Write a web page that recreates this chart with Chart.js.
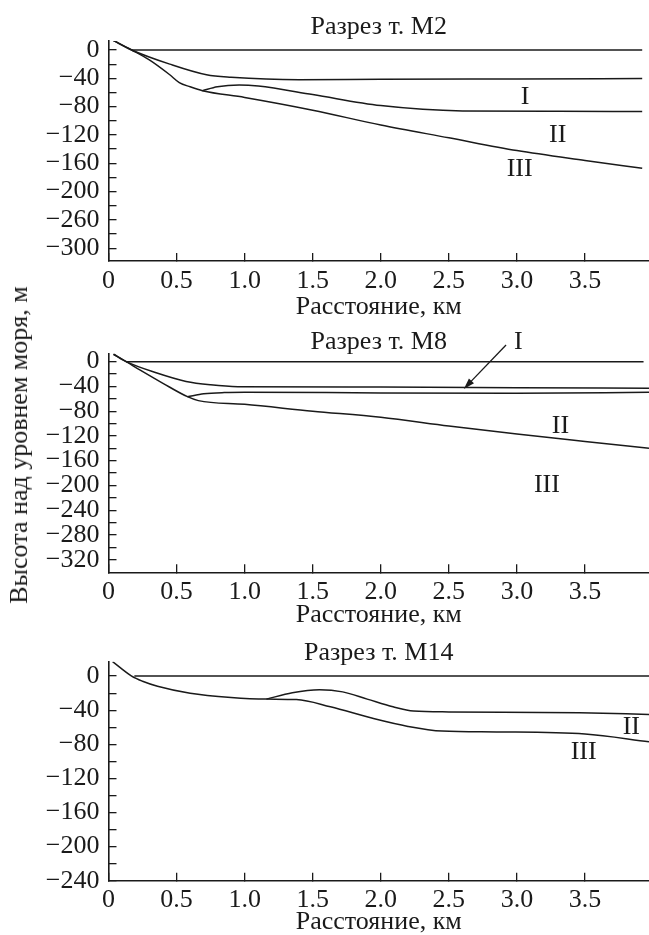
<!DOCTYPE html>
<html>
<head>
<meta charset="utf-8">
<script src="https://cdn.jsdelivr.net/npm/chart.js@4.4.1/dist/chart.umd.min.js"></script>
<style>
  html, body { margin: 0; padding: 0; background: #fff; overflow: hidden; }
  #page { position: relative; width: 649px; height: 935px; }
  .panel { position: absolute; left: 0; }
  #ytitle {
    position: absolute; left: 19px; top: 445px;
    transform: translate(-50%, -50%) rotate(-90deg);
    white-space: nowrap; color: #1a1a1a;
    font: 26px 'Liberation Serif', 'Times New Roman', serif;
  }
</style>
</head>
<body>
<div id="page">
  <canvas class="panel" id="c1" width="649" height="320" style="top:0px"></canvas>
  <canvas class="panel" id="c2" width="649" height="309" style="top:319px"></canvas>
  <canvas class="panel" id="c3" width="649" height="307" style="top:628px"></canvas>
  <div id="ytitle">Высота над уровнем моря, м</div>
</div>
<script>
// distance ticks, km
let xTicks = [0, 0.5, 1.0, 1.5, 2.0, 2.5, 3.0, 3.5];
let xTickLabels = ["0", "0.5", "1.0", "1.5", "2.0", "2.5", "3.0", "3.5"];

// ---- М2 ----
let m2YTicks = [0, -40, -80, -120, -160, -200, -240, -280];
let m2YTickLabels = ["0", "\u221240", "\u221280", "\u2212120", "\u2212160", "\u2212200", "\u2212260", "\u2212300"];
let m2Sea = [[0.17, 0], [3.92, 0]];
let m2Top = [[0.03, 14], [0.17, 0], [0.45, -20], [0.72, -35], [0.9, -38.5], [1.4, -42], [2.0, -41.3], [3.0, -40.8], [3.92, -40.4]];
let m2Mid = [[0.69, -57.5], [0.8, -52], [0.96, -49.5], [1.1, -51], [1.5, -63], [2.0, -78.5], [2.6, -86], [3.3, -86.5], [3.92, -87]];
let m2Base = [[0.03, 14], [0.17, 0], [0.3, -14], [0.45, -35], [0.52, -46], [0.6, -52], [0.69, -57.5], [1.0, -67], [1.5, -85], [2.0, -106], [2.5, -124], [3.0, -142], [3.5, -156], [3.92, -167]];
let m2Labels = [["I", 3.06, -66], ["II", 3.30, -120], ["III", 3.02, -169]];

// ---- М8 ----
let m8YTicks = [0, -40, -80, -120, -160, -200, -240, -280, -320];
let m8YTickLabels = ["0", "\u221240", "\u221280", "\u2212120", "\u2212160", "\u2212200", "\u2212240", "\u2212280", "\u2212320"];
let m8Sea = [[0.13, 0], [3.93, 0]];
let m8Top = [[0.037, 12], [0.13, 0], [0.35, -18], [0.57, -32], [0.75, -37.5], [0.95, -40.4], [2.0, -41], [3.0, -42], [3.97, -43]];
let m8Mid = [[0.58, -56.6], [0.7, -52], [0.85, -50], [1.0, -49.5], [2.0, -50.5], [3.0, -51], [3.97, -49.5]];
let m8Base = [[0.037, 12], [0.13, 0], [0.23, -13.4], [0.4, -35], [0.58, -56.6], [0.66, -63], [1.0, -69], [1.5, -80], [2.0, -90], [2.5, -104], [3.0, -117], [3.5, -129], [3.97, -140]];
let m8Labels = [["I", 3.01, 32], ["II", 3.32, -104], ["III", 3.22, -199]];
let m8Arrow = [[2.92, 27], [2.61, -44]];

// ---- М14 ----
let m14YTicks = [0, -40, -80, -120, -160, -200, -240];
let m14YTickLabels = ["0", "\u221240", "\u221280", "\u2212120", "\u2212160", "\u2212200", "\u2212240"];
let m14Sea = [[0.19, 0], [3.97, 0]];
let m14Mid = [[1.16, -27], [1.35, -19.5], [1.55, -16], [1.72, -18.5], [1.9, -27], [2.09, -36], [2.24, -41], [2.5, -42], [3.46, -43], [3.97, -45]];
let m14Base = [[0.03, 17], [0.17, 0], [0.25, -6], [0.36, -11.8], [0.6, -20], [0.9, -25], [1.16, -27], [1.38, -27.5], [1.63, -36], [1.94, -49.5], [2.2, -59], [2.45, -64.5], [2.85, -65.5], [3.5, -68], [3.97, -77]];
let m14Labels = [["II", 3.84, -60], ["III", 3.49, -89]];

const INK = "#1a1a1a";
const SERIF = "'Liberation Serif', 'Times New Roman', serif";

function lineSet(points) {
    return {
        data: points.map(p => ({ x: p[0], y: p[1] })),
        borderColor: INK,
        borderWidth: 1.5,
        pointRadius: 0,
        fill: false,
        cubicInterpolationMode: "monotone"
    };
}

function withMinor(majors) {
    let out = [];
    majors.forEach((v, i) => {
        out.push(v);
        if (i < majors.length - 1) out.push((v + majors[i + 1]) / 2);
    });
    return out;
}

const annotate = {
    id: "annotate",
    afterDatasetsDraw(chart, args, opts) {
        const ctx = chart.ctx;
        const x = chart.scales.x, y = chart.scales.y;
        ctx.save();
        ctx.fillStyle = INK;
        ctx.strokeStyle = INK;
        ctx.font = "26px " + SERIF;
        ctx.textAlign = "center";
        ctx.textBaseline = "middle";
        (opts.labels || []).forEach(l => {
            ctx.fillText(l[0], x.getPixelForValue(l[1]), y.getPixelForValue(l[2]));
        });
        if (opts.arrow) {
            let x1 = x.getPixelForValue(opts.arrow[0][0]), y1 = y.getPixelForValue(opts.arrow[0][1]);
            let x2 = x.getPixelForValue(opts.arrow[1][0]), y2 = y.getPixelForValue(opts.arrow[1][1]);
            let a = Math.atan2(y2 - y1, x2 - x1);
            ctx.lineWidth = 1.3;
            ctx.beginPath();
            ctx.moveTo(x1, y1);
            ctx.lineTo(x2 - 8 * Math.cos(a), y2 - 8 * Math.sin(a));
            ctx.stroke();
            ctx.beginPath();
            ctx.moveTo(x2, y2);
            ctx.lineTo(x2 - 11 * Math.cos(a) + 3.5 * Math.sin(a), y2 - 11 * Math.sin(a) - 3.5 * Math.cos(a));
            ctx.lineTo(x2 - 11 * Math.cos(a) - 3.5 * Math.sin(a), y2 - 11 * Math.sin(a) + 3.5 * Math.cos(a));
            ctx.closePath();
            ctx.fill();
        }
        ctx.restore();
    }
};

function makePanel(id, cfg) {
    let ctx = document.getElementById(id).getContext("2d");
    let yAll = withMinor(cfg.yTicks);
    return new Chart(ctx, {
        type: "line",
        data: { datasets: cfg.lines.map(lineSet) },
        plugins: [annotate],
        options: {
            responsive: false,
            animation: false,
            events: [],
            layout: { padding: 0 },
            plugins: {
                legend: { display: false },
                tooltip: { enabled: false },
                title: {
                    display: true,
                    fullSize: false,
                    text: cfg.title,
                    color: INK,
                    font: { family: SERIF, size: 26, weight: "normal", lineHeight: 1 },
                    padding: cfg.titlePad
                },
                annotate: { labels: cfg.labels, arrow: cfg.arrow }
            },
            scales: {
                x: {
                    type: "linear",
                    min: 0,
                    max: 3.97,
                    afterFit(s) { s.height = cfg.xHeight; },
                    afterBuildTicks(s) { s.ticks = xTicks.map(v => ({ value: v })); },
                    border: { display: true, color: INK, width: 1.6 },
                    grid: { drawOnChartArea: false, drawTicks: true, tickLength: -8, color: INK, lineWidth: 1.3 },
                    ticks: {
                        autoSkip: false, maxRotation: 0, padding: cfg.xPad, color: INK,
                        font: { family: SERIF, size: 26 },
                        callback: v => { let i = xTicks.indexOf(v); return i >= 0 ? xTickLabels[i] : ""; }
                    },
                    title: {
                        display: true,
                        text: "Расстояние, км",
                        color: INK,
                        padding: 0,
                        font: { family: SERIF, size: 26, lineHeight: 1 }
                    }
                },
                y: {
                    type: "linear",
                    min: cfg.yMin,
                    max: cfg.yMax,
                    afterFit(s) { s.width = 108.5; },
                    afterBuildTicks(s) { s.ticks = yAll.map(v => ({ value: v })); },
                    border: { display: true, color: INK, width: 1.6 },
                    grid: { drawOnChartArea: false, drawTicks: true, tickLength: -8, color: INK, lineWidth: 1.3 },
                    ticks: {
                        autoSkip: false, padding: 17, color: INK,
                        font: { family: SERIF, size: 26 },
                        callback: v => { let i = cfg.yTicks.indexOf(v); return i >= 0 ? cfg.yLabels[i] : ""; }
                    }
                }
            }
        }
    });
}

makePanel("c1", {
    title: "Разрез т. М2",
    titlePad: { top: 13.7, bottom: 1.3 },
    xHeight: 59, xPad: 13,
    yMin: -298, yMax: 12.7,
    yTicks: m2YTicks, yLabels: m2YTickLabels,
    lines: [m2Sea, m2Top, m2Mid, m2Base],
    labels: m2Labels
});

makePanel("c2", {
    title: "Разрез т. М8",
    titlePad: { top: 9.7, bottom: -1.4 },
    xHeight: 55.7, xPad: 12,
    yMin: -340.4, yMax: 13.5,
    yTicks: m8YTicks, yLabels: m8YTickLabels,
    lines: [m8Sea, m8Top, m8Mid, m8Base],
    labels: m8Labels,
    arrow: m8Arrow
});

makePanel("c3", {
    title: "Разрез т. М14",
    titlePad: { top: 12.3, bottom: -4.6 },
    xHeight: 54.3, xPad: 12,
    yMin: -240, yMax: 16.9,
    yTicks: m14YTicks, yLabels: m14YTickLabels,
    lines: [m14Sea, m14Mid, m14Base],
    labels: m14Labels
});
</script>
</body>
</html>
